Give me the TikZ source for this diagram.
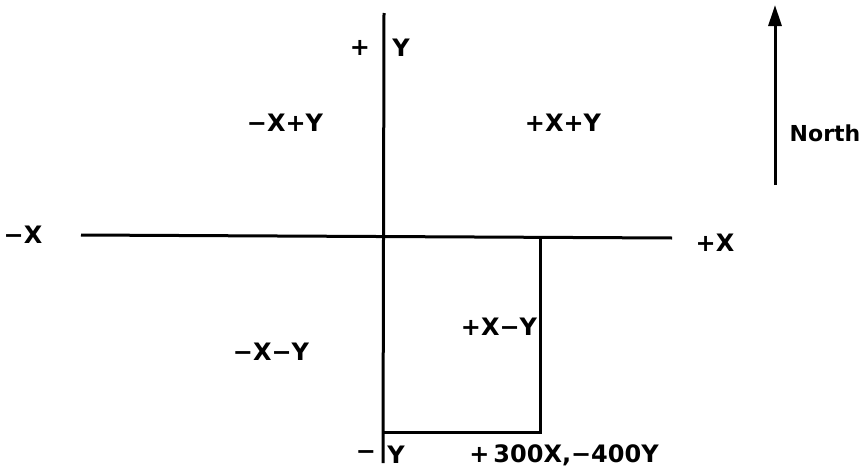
\documentclass[tikz,border=0pt]{standalone}
\usepackage{fontspec}
\setmainfont{DejaVu Sans}
\usetikzlibrary{arrows.meta}
\begin{document}
\begin{tikzpicture}[x=1pt,y=-1pt,
  lbl/.style={font=\bfseries\fontsize{24}{24}\selectfont, inner sep=0pt, anchor=center},
  axis/.style={line width=3pt}]
\useasboundingbox (0,0) rectangle (862,471);
\coordinate (ytop) at (384,13);
\coordinate (ybot) at (383,463);
\coordinate (xl) at (81,235);
\coordinate (xr) at (672,238);
\coordinate (rc) at (540,237);
\coordinate (rb) at (540,432);
\coordinate (lb) at (383,432);
\coordinate (ns) at (775,185);
\coordinate (nn) at (775,5);
\draw[axis] (ytop) -- (ybot);
\draw[axis] (xl) -- (xr);
\draw[axis] (rc) -- (rb) -- (lb);
\draw[axis, -{Triangle[length=21pt,width=13pt]}] (ns) -- (nn);
\node[lbl] (py) at (360,48) {+};
\node[lbl] (yt) at (401,48) {Y};
\node[lbl] (q2) at (285,123) {−X+Y};
\node[lbl] (q1) at (563,123) {+X+Y};
\node[lbl, font=\bfseries\fontsize{22}{22}\selectfont] (north) at (825,133) {North};
\node[lbl] (mx) at (23,235) {−X};
\node[lbl] (px) at (715,243) {+X};
\node[lbl] (q4) at (499,327) {+X−Y};
\node[lbl] (q3) at (271,352) {−X−Y};
\node[lbl] (my) at (366,455) {−};
\node[lbl] (yb) at (396,455) {Y};
\node[lbl] (pt) at (564,455) {+\,300X,−400Y};
\end{tikzpicture}
\end{document}
